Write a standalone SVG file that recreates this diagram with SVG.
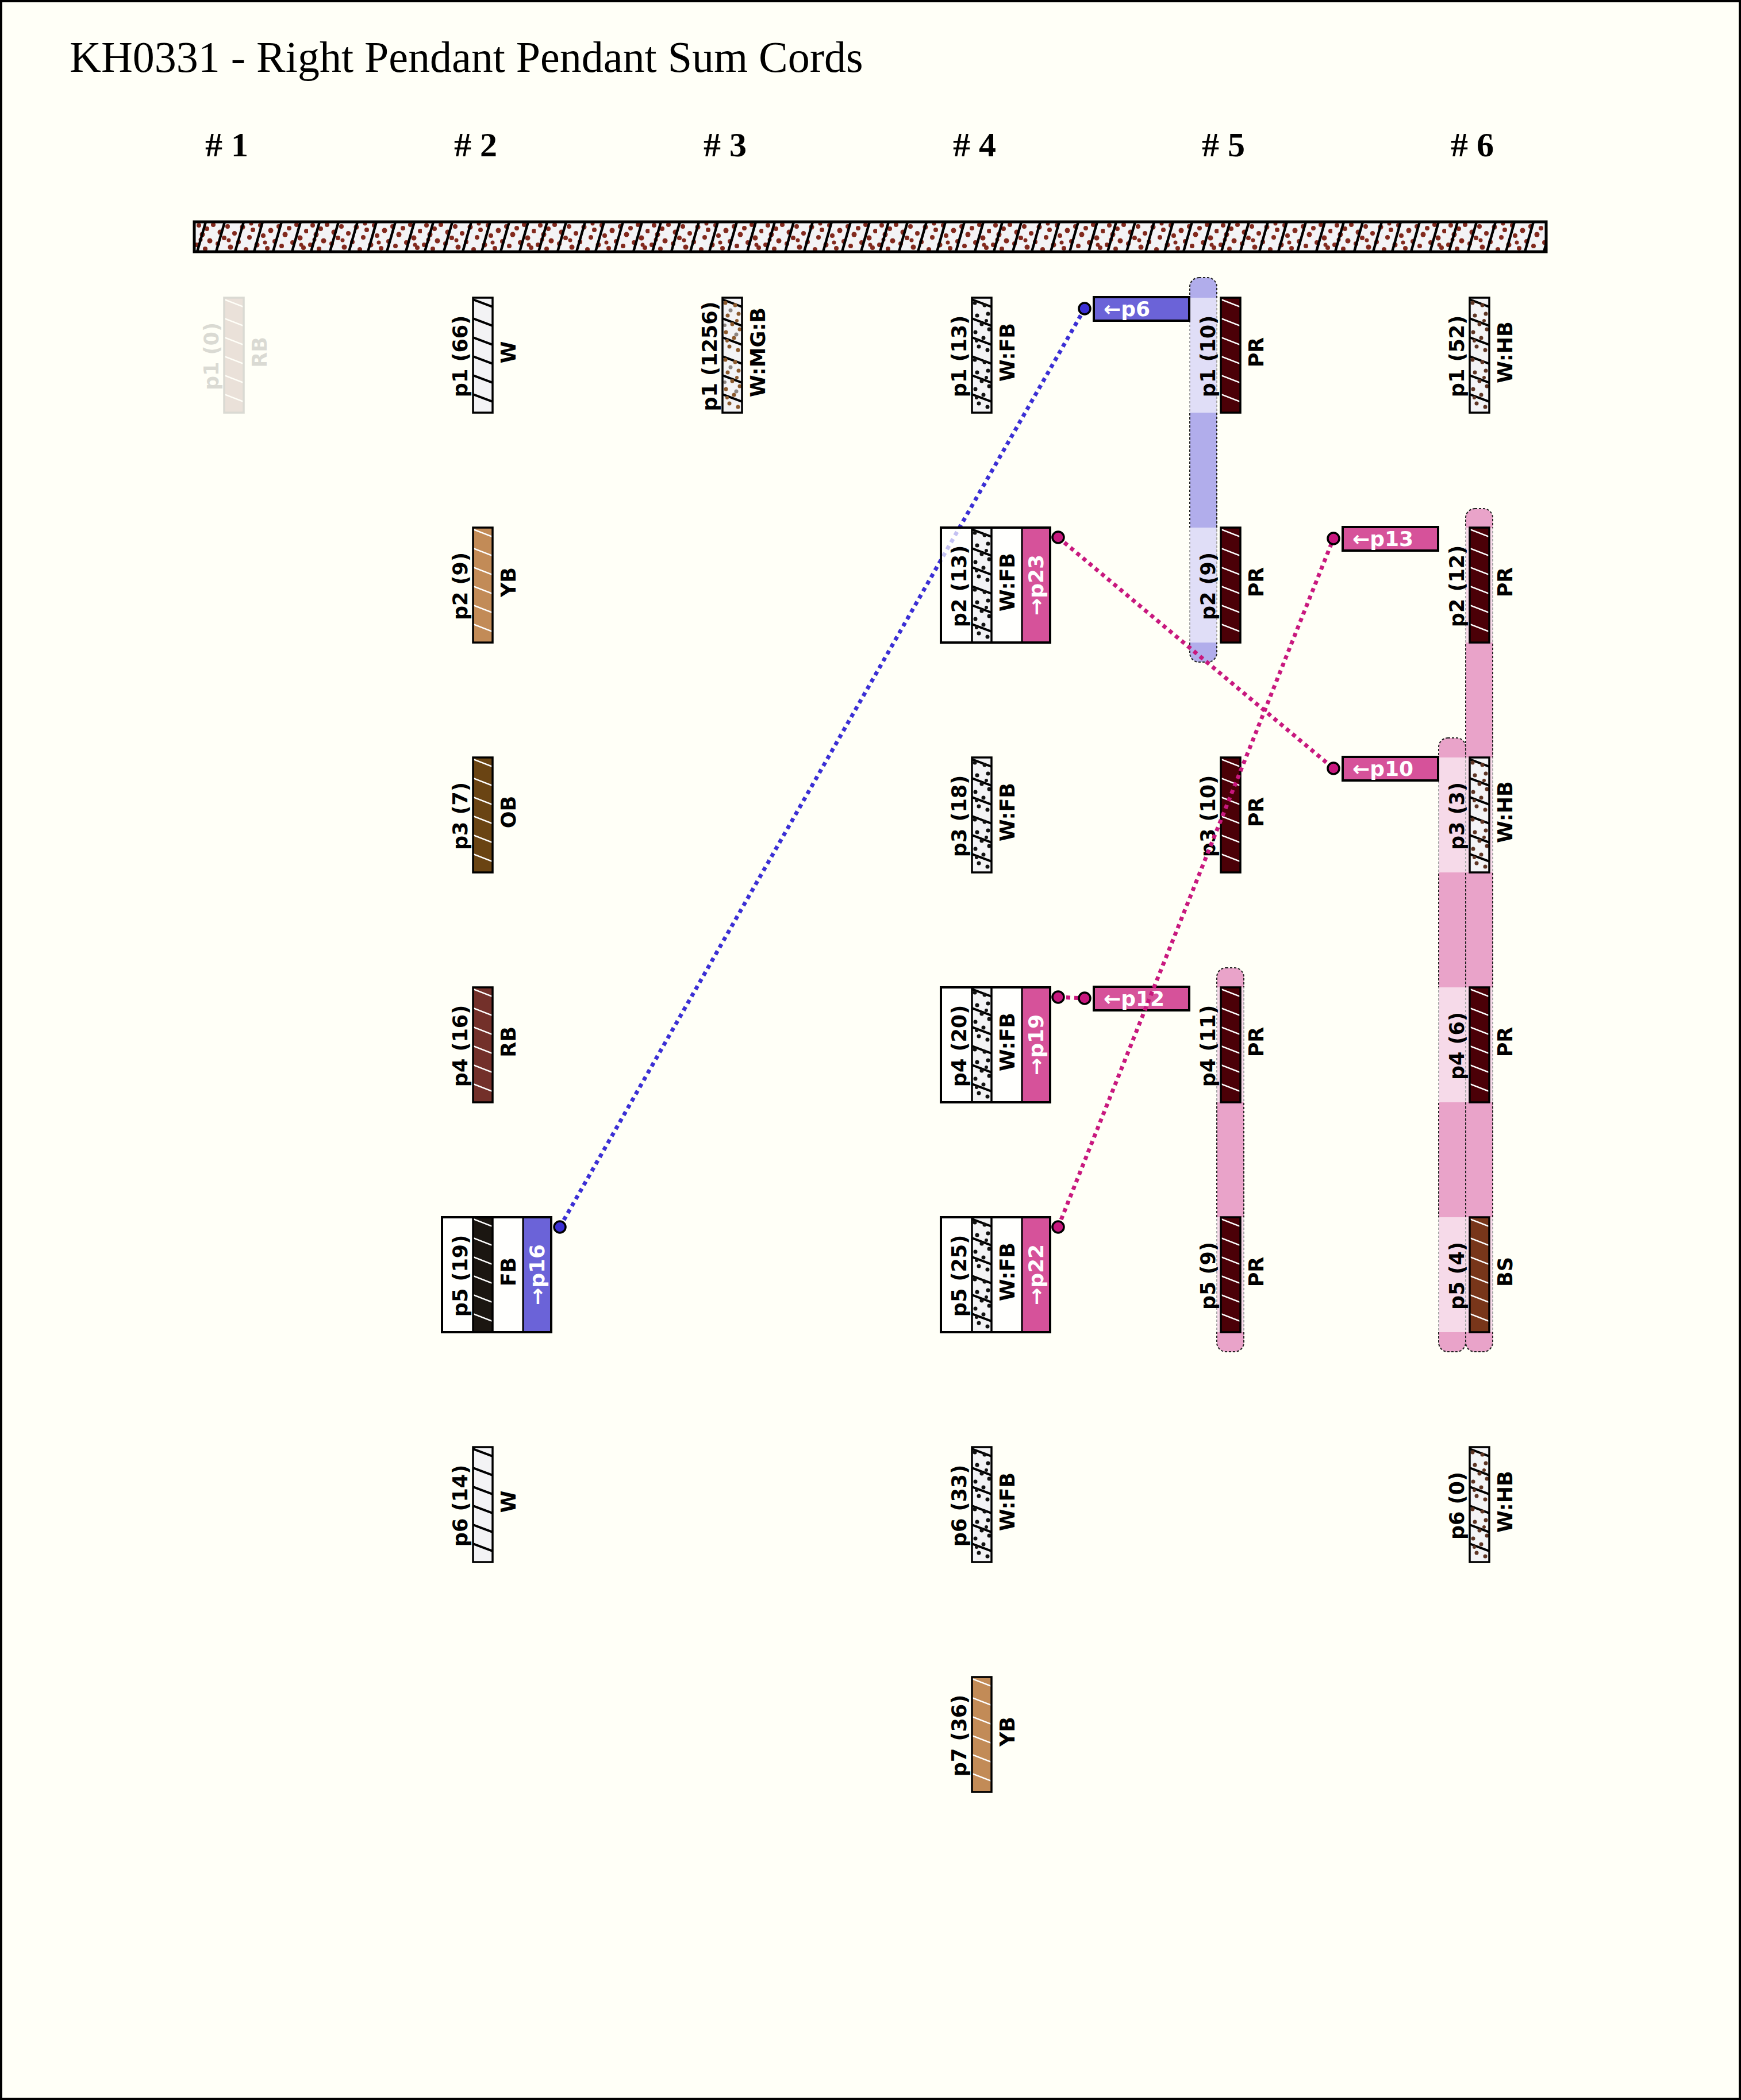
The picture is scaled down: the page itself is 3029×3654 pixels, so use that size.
<svg xmlns="http://www.w3.org/2000/svg" width="3029" height="3654" viewBox="0 0 3029 3654">
<style>
.lbl{font-family:"DejaVu Sans",sans-serif;font-weight:bold;font-size:35px;text-anchor:middle;fill:#000}
.tab{font-family:"DejaVu Sans",sans-serif;font-weight:bold;font-size:36px;text-anchor:middle;fill:#fff}
.tagt{font-family:"DejaVu Sans",sans-serif;font-weight:bold;font-size:36px;fill:#fff}
.hdr{font-family:"Liberation Serif",serif;font-size:60px;font-weight:bold;fill:#000}
.cord{stroke:#000;stroke-width:3.5}
.box{fill:none;stroke:#000;stroke-width:4}
.sep{stroke:#000;stroke-width:3}
.pill{stroke:#222;stroke-width:2;stroke-dasharray:4 3}
.ov{fill:#fff;fill-opacity:0.6}
.tagb{stroke:#000;stroke-width:4}
.dot{stroke:#000;stroke-width:3.5}
</style>
<defs>
<g id="wst"><path d="M0,3 L34,16 M0,36 L34,49 M0,69 L34,82" stroke="#fff" stroke-width="2.5"/></g>
<g id="bst"><path d="M0,3 L34,16 M0,36 L34,49 M0,69 L34,82" stroke="#000" stroke-width="4"/></g>
<pattern id="pPR" width="34" height="99" patternUnits="userSpaceOnUse"><rect width="34" height="99" fill="#4b0007"/><use href="#wst"/></pattern>
<pattern id="pYB" width="34" height="99" patternUnits="userSpaceOnUse"><rect width="34" height="99" fill="#c28b57"/><use href="#wst"/></pattern>
<pattern id="pOB" width="34" height="99" patternUnits="userSpaceOnUse"><rect width="34" height="99" fill="#6a4413"/><use href="#wst"/></pattern>
<pattern id="pRB" width="34" height="99" patternUnits="userSpaceOnUse"><rect width="34" height="99" fill="#73302a"/><use href="#wst"/></pattern>
<pattern id="pFB" width="34" height="99" patternUnits="userSpaceOnUse"><rect width="34" height="99" fill="#1b1611"/><use href="#wst"/></pattern>
<pattern id="pBS" width="34" height="99" patternUnits="userSpaceOnUse"><rect width="34" height="99" fill="#78361a"/><use href="#wst"/></pattern>
<pattern id="pW" width="34" height="99" patternUnits="userSpaceOnUse"><rect width="34" height="99" fill="#f3f3f5"/><use href="#bst"/></pattern>
<g id="dots1"><circle cx="5" cy="9" r="3.5"/><circle cx="22" cy="13" r="3.5"/><circle cx="28" cy="28" r="3.5"/><circle cx="9" cy="31" r="3.5"/><circle cx="17" cy="46" r="3.5"/><circle cx="30" cy="55" r="3.5"/><circle cx="6" cy="60" r="3.5"/><circle cx="20" cy="70" r="3.5"/><circle cx="12" cy="85" r="3.5"/><circle cx="27" cy="91" r="3.5"/><circle cx="25" cy="40" r="3"/><circle cx="8" cy="75" r="3"/></g>
<pattern id="pWFB" width="34" height="99" patternUnits="userSpaceOnUse"><rect width="34" height="99" fill="#f3f3f5"/><use href="#bst"/><use href="#dots1" fill="#111"/></pattern>
<pattern id="pWHB" width="34" height="99" patternUnits="userSpaceOnUse"><rect width="34" height="99" fill="#f3f3f5"/><use href="#bst"/><use href="#dots1" fill="#5e3524"/></pattern>
<pattern id="pWMGB" width="34" height="99" patternUnits="userSpaceOnUse"><rect width="34" height="99" fill="#f3f3f5"/><use href="#bst"/><use href="#dots1" fill="#8c5a2e"/><circle cx="14" cy="22" r="3.5" fill="#8d8580"/><circle cx="24" cy="64" r="3.5" fill="#8d8580"/><circle cx="4" cy="48" r="3" fill="#8d8580"/></pattern>
<pattern id="pBar" width="198" height="52" patternUnits="userSpaceOnUse"><rect width="198" height="52" fill="#f3f3f5"/><g fill="#82291d"><circle cx="8" cy="6" r="4"/><circle cx="14" cy="22" r="4.5"/><circle cx="4" cy="40" r="4"/><circle cx="22" cy="12" r="4"/><circle cx="27" cy="33" r="4.5"/><circle cx="19" cy="47" r="4"/><circle cx="33" cy="5" r="4"/><circle cx="45" cy="18" r="4.5"/><circle cx="41" cy="38" r="4"/><circle cx="52" cy="28" r="4"/><circle cx="58" cy="8" r="4"/><circle cx="63" cy="44" r="4.5"/><circle cx="70" cy="20" r="4"/><circle cx="77" cy="35" r="4"/><circle cx="84" cy="9" r="4.5"/><circle cx="90" cy="48" r="4"/><circle cx="96" cy="27" r="4"/><circle cx="102" cy="14" r="4"/><circle cx="109" cy="40" r="4.5"/><circle cx="115" cy="6" r="4"/><circle cx="120" cy="24" r="4"/><circle cx="127" cy="46" r="4"/><circle cx="133" cy="15" r="4.5"/><circle cx="140" cy="34" r="4"/><circle cx="147" cy="8" r="4"/><circle cx="152" cy="42" r="4"/><circle cx="158" cy="22" r="4.5"/><circle cx="165" cy="11" r="4"/><circle cx="171" cy="36" r="4"/><circle cx="178" cy="5" r="4"/><circle cx="184" cy="28" r="4.5"/><circle cx="190" cy="45" r="4"/><circle cx="195" cy="16" r="4"/><circle cx="11" cy="31" r="3.5"/><circle cx="60" cy="32" r="3.5"/><circle cx="123" cy="36" r="3.5"/><circle cx="186" cy="40" r="3.5"/><circle cx="99" cy="3" r="3.5"/></g><path d="M5,52 L20,0 M38,52 L53,0 M71,52 L86,0 M104,52 L119,0 M137,52 L152,0 M170,52 L185,0" stroke="#000" stroke-width="4.5"/></pattern>
</defs>
<rect x="2" y="2" width="3025" height="3650" fill="#fffff7" stroke="#000" stroke-width="4"/>
<text x="121" y="125" font-family="Liberation Serif, serif" font-size="76">KH0331 - Right Pendant Pendant Sum Cords</text>
<g id="headers">
<text class="hdr" x="357" y="272"># 1</text>
<text class="hdr" x="790" y="272"># 2</text>
<text class="hdr" x="1224" y="272"># 3</text>
<text class="hdr" x="1658" y="272"># 4</text>
<text class="hdr" x="2091" y="272"># 5</text>
<text class="hdr" x="2524" y="272"># 6</text>
</g>
<g id="primary" transform="translate(338,386)"><rect width="2352" height="52" fill="url(#pBar)" stroke="#000" stroke-width="5"/></g>
<g id="sums">
<g id="sum-p6"><rect class="pill" x="2070" y="483" width="47" height="669" rx="16" fill="#b1adeb"/><rect class="ov" x="2069" y="518" width="49" height="200"/><rect class="ov" x="2069" y="918" width="49" height="200"/></g>
<g id="sum-p12"><rect class="pill" x="2117" y="1684" width="47" height="668" rx="16" fill="#e9a3c9"/><rect class="ov" x="2116" y="1718" width="49" height="200"/><rect class="ov" x="2116" y="2118" width="49" height="200"/></g>
<g id="sum-p13"><rect class="pill" x="2550" y="885" width="47" height="1467" rx="16" fill="#e9a3c9"/><rect class="ov" x="2549" y="918" width="49" height="200"/><rect class="ov" x="2549" y="1318" width="49" height="200"/><rect class="ov" x="2549" y="1718" width="49" height="200"/><rect class="ov" x="2549" y="2118" width="49" height="200"/></g>
<g id="sum-p10"><rect class="pill" x="2503" y="1284" width="47" height="1068" rx="16" fill="#e9a3c9"/><rect class="ov" x="2502" y="1318" width="49" height="200"/><rect class="ov" x="2502" y="1718" width="49" height="200"/><rect class="ov" x="2502" y="2118" width="49" height="200"/></g>
</g>
<g id="c1p1" transform="translate(390,518)" opacity="0.14"><rect class="cord" width="34" height="200" fill="url(#pRB)"/><text class="lbl" transform="translate(-10,102) rotate(-90)">p1 (0)</text><text class="lbl" transform="translate(74,95) rotate(-90)">RB</text></g>
<g id="c2p1" transform="translate(823,518)"><rect class="cord" width="34" height="200" fill="url(#pW)"/><text class="lbl" transform="translate(-10,102) rotate(-90)">p1 (66)</text><text class="lbl" transform="translate(74,95) rotate(-90)">W</text></g>
<g id="c2p2" transform="translate(823,918)"><rect class="cord" width="34" height="200" fill="url(#pYB)"/><text class="lbl" transform="translate(-10,102) rotate(-90)">p2 (9)</text><text class="lbl" transform="translate(74,95) rotate(-90)">YB</text></g>
<g id="c2p3" transform="translate(823,1318)"><rect class="cord" width="34" height="200" fill="url(#pOB)"/><text class="lbl" transform="translate(-10,102) rotate(-90)">p3 (7)</text><text class="lbl" transform="translate(74,95) rotate(-90)">OB</text></g>
<g id="c2p4" transform="translate(823,1718)"><rect class="cord" width="34" height="200" fill="url(#pRB)"/><text class="lbl" transform="translate(-10,102) rotate(-90)">p4 (16)</text><text class="lbl" transform="translate(74,95) rotate(-90)">RB</text></g>
<g id="c2p6" transform="translate(823,2518)"><rect class="cord" width="34" height="200" fill="url(#pW)"/><text class="lbl" transform="translate(-10,102) rotate(-90)">p6 (14)</text><text class="lbl" transform="translate(74,95) rotate(-90)">W</text></g>
<g id="c3p1" transform="translate(1257,518)"><rect class="cord" width="34" height="200" fill="url(#pWMGB)"/><text class="lbl" transform="translate(-10,102) rotate(-90)">p1 (1256)</text><text class="lbl" transform="translate(74,95) rotate(-90)">W:MG:B</text></g>
<g id="c4p1" transform="translate(1691,518)"><rect class="cord" width="34" height="200" fill="url(#pWFB)"/><text class="lbl" transform="translate(-10,102) rotate(-90)">p1 (13)</text><text class="lbl" transform="translate(74,95) rotate(-90)">W:FB</text></g>
<g id="c4p3" transform="translate(1691,1318)"><rect class="cord" width="34" height="200" fill="url(#pWFB)"/><text class="lbl" transform="translate(-10,102) rotate(-90)">p3 (18)</text><text class="lbl" transform="translate(74,95) rotate(-90)">W:FB</text></g>
<g id="c4p6" transform="translate(1691,2518)"><rect class="cord" width="34" height="200" fill="url(#pWFB)"/><text class="lbl" transform="translate(-10,102) rotate(-90)">p6 (33)</text><text class="lbl" transform="translate(74,95) rotate(-90)">W:FB</text></g>
<g id="c4p7" transform="translate(1691,2918)"><rect class="cord" width="34" height="200" fill="url(#pYB)"/><text class="lbl" transform="translate(-10,102) rotate(-90)">p7 (36)</text><text class="lbl" transform="translate(74,95) rotate(-90)">YB</text></g>
<g id="c5p1" transform="translate(2124,518)"><rect class="cord" width="34" height="200" fill="url(#pPR)"/><text class="lbl" transform="translate(-10,102) rotate(-90)">p1 (10)</text><text class="lbl" transform="translate(74,95) rotate(-90)">PR</text></g>
<g id="c5p2" transform="translate(2124,918)"><rect class="cord" width="34" height="200" fill="url(#pPR)"/><text class="lbl" transform="translate(-10,102) rotate(-90)">p2 (9)</text><text class="lbl" transform="translate(74,95) rotate(-90)">PR</text></g>
<g id="c5p3" transform="translate(2124,1318)"><rect class="cord" width="34" height="200" fill="url(#pPR)"/><text class="lbl" transform="translate(-10,102) rotate(-90)">p3 (10)</text><text class="lbl" transform="translate(74,95) rotate(-90)">PR</text></g>
<g id="c5p4" transform="translate(2124,1718)"><rect class="cord" width="34" height="200" fill="url(#pPR)"/><text class="lbl" transform="translate(-10,102) rotate(-90)">p4 (11)</text><text class="lbl" transform="translate(74,95) rotate(-90)">PR</text></g>
<g id="c5p5" transform="translate(2124,2118)"><rect class="cord" width="34" height="200" fill="url(#pPR)"/><text class="lbl" transform="translate(-10,102) rotate(-90)">p5 (9)</text><text class="lbl" transform="translate(74,95) rotate(-90)">PR</text></g>
<g id="c6p1" transform="translate(2557,518)"><rect class="cord" width="34" height="200" fill="url(#pWHB)"/><text class="lbl" transform="translate(-10,102) rotate(-90)">p1 (52)</text><text class="lbl" transform="translate(74,95) rotate(-90)">W:HB</text></g>
<g id="c6p2" transform="translate(2557,918)"><rect class="cord" width="34" height="200" fill="url(#pPR)"/><text class="lbl" transform="translate(-10,102) rotate(-90)">p2 (12)</text><text class="lbl" transform="translate(74,95) rotate(-90)">PR</text></g>
<g id="c6p3" transform="translate(2557,1318)"><rect class="cord" width="34" height="200" fill="url(#pWHB)"/><text class="lbl" transform="translate(-10,102) rotate(-90)">p3 (3)</text><text class="lbl" transform="translate(74,95) rotate(-90)">W:HB</text></g>
<g id="c6p4" transform="translate(2557,1718)"><rect class="cord" width="34" height="200" fill="url(#pPR)"/><text class="lbl" transform="translate(-10,102) rotate(-90)">p4 (6)</text><text class="lbl" transform="translate(74,95) rotate(-90)">PR</text></g>
<g id="c6p5" transform="translate(2557,2118)"><rect class="cord" width="34" height="200" fill="url(#pBS)"/><text class="lbl" transform="translate(-10,102) rotate(-90)">p5 (4)</text><text class="lbl" transform="translate(74,95) rotate(-90)">BS</text></g>
<g id="c6p6" transform="translate(2557,2518)"><rect class="cord" width="34" height="200" fill="url(#pWHB)"/><text class="lbl" transform="translate(-10,102) rotate(-90)">p6 (0)</text><text class="lbl" transform="translate(74,95) rotate(-90)">W:HB</text></g>
<g id="tag-p6"><rect class="tagb" x="1903" y="517" width="166" height="41" fill="#6b63d8"/><text class="tagt" x="1920" y="550">←p6</text></g>
<g id="tag-p13"><rect class="tagb" x="2336" y="917" width="166" height="41" fill="#d6529a"/><text class="tagt" x="2353" y="950">←p13</text></g>
<g id="tag-p10"><rect class="tagb" x="2336" y="1317" width="166" height="41" fill="#d6529a"/><text class="tagt" x="2353" y="1350">←p10</text></g>
<g id="tag-p12"><rect class="tagb" x="1903" y="1717" width="166" height="41" fill="#d6529a"/><text class="tagt" x="1920" y="1750">←p12</text></g>
<g id="connectors" fill="none" stroke-width="7" stroke-dasharray="7 7">
<line x1="974" y1="2135" x2="1887" y2="537" stroke="#3b2fd4"/>
<line x1="1841" y1="935" x2="2320" y2="1337" stroke="#c8187e"/>
<line x1="1841" y1="2135" x2="2320" y2="937" stroke="#c8187e"/>
<line x1="1841" y1="1735" x2="1887" y2="1737" stroke="#c8187e"/>
</g>
<g id="c2p5" transform="translate(823,2118)"><rect x="-54" width="190" height="200" fill="#fff" fill-opacity="0.7"/><rect x="87" width="49" height="200" fill="#6b63d8"/><rect class="cord" width="34" height="200" fill="url(#pFB)"/><line class="sep" x1="87" y1="0" x2="87" y2="200"/><rect class="box" x="-54" width="190" height="200"/><text class="lbl" transform="translate(-10,102) rotate(-90)">p5 (19)</text><text class="lbl" transform="translate(74,95) rotate(-90)">FB</text><text class="tab" transform="translate(123.5,100) rotate(-90)">→p16</text></g>
<g id="c4p2" transform="translate(1691,918)"><rect x="-54" width="190" height="200" fill="#fff" fill-opacity="0.7"/><rect x="87" width="49" height="200" fill="#d6529a"/><rect class="cord" width="34" height="200" fill="url(#pWFB)"/><line class="sep" x1="87" y1="0" x2="87" y2="200"/><rect class="box" x="-54" width="190" height="200"/><text class="lbl" transform="translate(-10,102) rotate(-90)">p2 (13)</text><text class="lbl" transform="translate(74,95) rotate(-90)">W:FB</text><text class="tab" transform="translate(123.5,100) rotate(-90)">→p23</text></g>
<g id="c4p4" transform="translate(1691,1718)"><rect x="-54" width="190" height="200" fill="#fff" fill-opacity="0.7"/><rect x="87" width="49" height="200" fill="#d6529a"/><rect class="cord" width="34" height="200" fill="url(#pWFB)"/><line class="sep" x1="87" y1="0" x2="87" y2="200"/><rect class="box" x="-54" width="190" height="200"/><text class="lbl" transform="translate(-10,102) rotate(-90)">p4 (20)</text><text class="lbl" transform="translate(74,95) rotate(-90)">W:FB</text><text class="tab" transform="translate(123.5,100) rotate(-90)">→p19</text></g>
<g id="c4p5" transform="translate(1691,2118)"><rect x="-54" width="190" height="200" fill="#fff" fill-opacity="0.7"/><rect x="87" width="49" height="200" fill="#d6529a"/><rect class="cord" width="34" height="200" fill="url(#pWFB)"/><line class="sep" x1="87" y1="0" x2="87" y2="200"/><rect class="box" x="-54" width="190" height="200"/><text class="lbl" transform="translate(-10,102) rotate(-90)">p5 (25)</text><text class="lbl" transform="translate(74,95) rotate(-90)">W:FB</text><text class="tab" transform="translate(123.5,100) rotate(-90)">→p22</text></g>
<g id="endpoints">
<circle class="dot" cx="974" cy="2135" r="10" fill="#3b2fd4"/>
<circle class="dot" cx="1887" cy="537" r="10" fill="#3b2fd4"/>
<circle class="dot" cx="1841" cy="935" r="10" fill="#c8187e"/>
<circle class="dot" cx="2320" cy="1337" r="10" fill="#c8187e"/>
<circle class="dot" cx="1841" cy="2135" r="10" fill="#c8187e"/>
<circle class="dot" cx="2320" cy="937" r="10" fill="#c8187e"/>
<circle class="dot" cx="1841" cy="1735" r="10" fill="#c8187e"/>
<circle class="dot" cx="1887" cy="1737" r="10" fill="#c8187e"/>
</g>
</svg>
